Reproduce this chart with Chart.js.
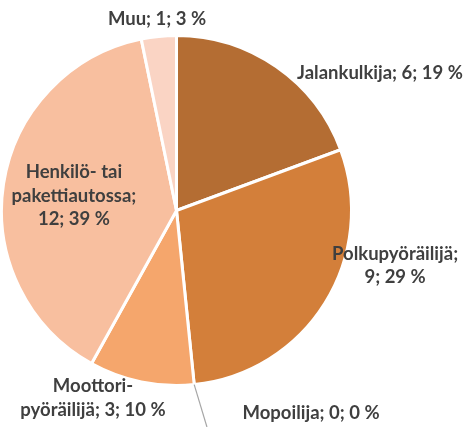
<!DOCTYPE html>
<html>
<head>
<meta charset="utf-8">
<script src="https://cdn.jsdelivr.net/npm/chart.js@4"></script>
<style>
  html, body { margin: 0; padding: 0; background: #fff; }
  #wrap { width: 463px; height: 427px; position: relative; }
</style>
</head>
<body>
<div id="wrap"><canvas id="kaavio"></canvas></div>
<script>
// Tiedot
const luokat = ['Jalankulkija', 'Polkupyöräilijä', 'Mopoilija', 'Moottori\u00ADpyöräilijä', 'Henkilö- tai pakettiautossa', 'Muu'];
const arvot = [6, 9, 0, 3, 12, 1];
const varit = ['#B46D33', '#D37F3A', '#E99455', '#F5A66C', '#F8BF9F', '#FAD4C4'];

// Etiketit: sijainti suhteessa säteeseen (dx, dy) ja rivityksen leveys
const etiketit = [
  { dx: 1.163, dy: -0.786, leveys: 400 },
  { dx: 1.249, dy: 0.314, leveys: 138 },
  { dx: 0.769, dy: 1.157, leveys: 400 },
  { dx: -0.477, dy: 1.071, leveys: 150 },
  { dx: -0.586, dy: -0.083, leveys: 138 },
  { dx: -0.111, dy: -1.094, leveys: 400 }
];

const fontti = 'bold 18.5px Lato';
const riviKorkeus = 23.5;

function rivita(ctx, teksti, maxLeveys) {
  // pilkotaan välilyönneistä ja tavuviivan kohdalta
  const palat = [];
  teksti.split(' ').forEach((sana, i, kaikki) => {
    const osat = sana.split('\u00AD');
    osat.forEach((osa, j) => {
      palat.push({ t: osa, vali: j === osat.length - 1 && i < kaikki.length - 1 });
    });
  });
  const rivit = [];
  let nyt = '';
  let edVali = false;
  palat.forEach(pala => {
    const yhd = nyt === '' ? pala.t : nyt + (edVali ? ' ' : '') + pala.t;
    // '%' pysyy luvun kanssa samalla rivillä
    if (nyt !== '' && pala.t !== '%' && ctx.measureText(yhd).width > maxLeveys) {
      rivit.push(nyt + (edVali ? '' : '-'));
      nyt = pala.t;
    } else {
      nyt = yhd;
    }
    edVali = pala.vali;
  });
  if (nyt !== '') rivit.push(nyt);
  return rivit;
}

const etikettiPlugin = {
  id: 'etiketit',
  afterDatasetsDraw(chart) {
    const ctx = chart.ctx;
    const meta = chart.getDatasetMeta(0);
    const summa = arvot.reduce((a, b) => a + b, 0);
    ctx.save();
    ctx.font = fontti;
    ctx.fillStyle = '#3F3F3F';
    ctx.textAlign = 'center';
    ctx.textBaseline = 'middle';
    meta.data.forEach((kaari, i) => {
      const R = kaari.outerRadius;
      const pros = Math.round(arvot[i] / summa * 100);
      const teksti = `${luokat[i]}; ${arvot[i]}; ${pros} %`;
      const rivit = rivita(ctx, teksti, etiketit[i].leveys);
      const x = kaari.x + etiketit[i].dx * R;
      const y0 = kaari.y + etiketit[i].dy * R - (rivit.length - 1) * riviKorkeus / 2;
      rivit.forEach((r, k) => ctx.fillText(r, x, y0 + k * riviKorkeus));

      // viivain nolla-arvoiselle siivulle
      if (arvot[i] === 0) {
        const kulma = kaari.startAngle;
        const sx = kaari.x + Math.cos(kulma) * R;
        const sy = kaari.y + Math.sin(kulma) * R;
        ctx.beginPath();
        ctx.strokeStyle = '#A6A6A6';
        ctx.lineWidth = 1.2;
        ctx.moveTo(sx, sy);
        ctx.lineTo(kaari.x + 0.174 * R, kaari.y + 1.237 * R);
        ctx.stroke();
      }
    });
    ctx.restore();
  }
};

new Chart(document.getElementById('kaavio').getContext('2d'), {
  type: 'pie',
  data: {
    labels: luokat,
    datasets: [{
      data: arvot,
      backgroundColor: varit,
      borderColor: '#FFFFFF',
      borderWidth: 3,
      hoverOffset: 0
    }]
  },
  options: {
    responsive: true,
    maintainAspectRatio: false,
    animation: false,
    events: [],
    layout: {
      padding: { left: 0, right: 110, top: 34, bottom: 40 }
    },
    plugins: {
      legend: { display: false },
      tooltip: { enabled: false }
    }
  },
  plugins: [etikettiPlugin]
});
</script>
</body>
</html>
